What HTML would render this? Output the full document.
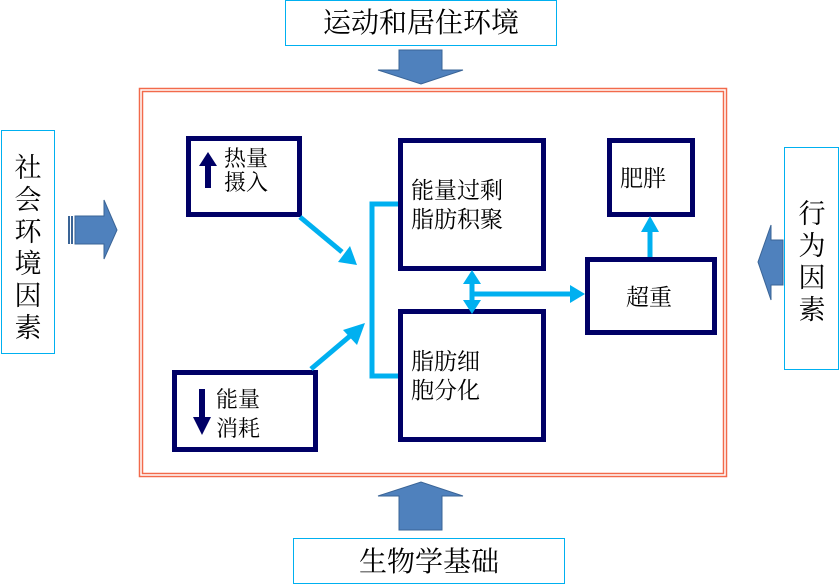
<!DOCTYPE html>
<html><head><meta charset="utf-8"><style>
body{margin:0;background:#fff;}
svg{display:block;}
text{font-family:"Liberation Serif","Noto Serif CJK SC",serif;fill:#000;}
</style></head><body>
<svg width="840" height="585" viewBox="0 0 840 585" xmlns="http://www.w3.org/2000/svg">
<rect x="139.5" y="88.5" width="587" height="388" fill="none" stroke="#f26a4b" stroke-width="1.5"/>
<rect x="142.5" y="91.5" width="581" height="382" fill="none" stroke="#f26a4b" stroke-width="1.5"/>

<rect x="285.5" y="0.5" width="271" height="45" fill="#fff" stroke="#00b0f0" stroke-width="1"/>
<text x="421" y="32" font-size="28" text-anchor="middle">运动和居住环境</text>
<rect x="293.5" y="538.5" width="271" height="45" fill="#fff" stroke="#00b0f0" stroke-width="1"/>
<text x="429" y="571" font-size="28" text-anchor="middle">生物学基础</text>
<rect x="1.5" y="130.5" width="53" height="223" fill="#fff" stroke="#00b0f0" stroke-width="1"/>
<g font-size="27" text-anchor="middle">
<text x="28" y="177">社</text><text x="28" y="209">会</text><text x="28" y="241">环</text><text x="28" y="273">境</text><text x="28" y="305">因</text><text x="28" y="337">素</text>
</g>
<rect x="784.5" y="147.5" width="54" height="222" fill="#fff" stroke="#00b0f0" stroke-width="1"/>
<g font-size="27" text-anchor="middle">
<text x="812" y="223">行</text><text x="812" y="255">为</text><text x="812" y="287">因</text><text x="812" y="319">素</text>
</g>

<g fill="#4f81bd" stroke="#3a6496" stroke-width="1">
<polygon points="399,50 442,50 442,70 463,70 421,84 378,70 399,70"/>
<polygon points="399,530 442,530 442,496 463,496 421,482 378,496 399,496"/>
<polygon points="75,216 104,216 104,200 117,230 104,259 104,244 75,244"/>
<polygon points="783,240 771,240 771,225 758,262 771,300 771,285 783,285"/>
</g>
<rect x="68" y="216" width="2" height="28" fill="#3a6496"/>
<rect x="71" y="216" width="2" height="28" fill="#3a6496"/>

<g fill="#fff" stroke="#000066" stroke-width="5">
<rect x="188.5" y="138.5" width="111" height="76"/>
<rect x="174.5" y="372.5" width="141" height="77"/>
<rect x="400.5" y="140.5" width="143" height="128"/>
<rect x="400.5" y="311.5" width="143" height="128"/>
<rect x="609.5" y="140.5" width="83" height="74"/>
<rect x="587.5" y="259.5" width="127" height="73"/>
</g>

<polygon points="205,188 211,188 211,166 217,166 208,152 199,166 205,166" fill="#000066"/>
<polygon points="199,389 205,389 205,417 211,417 202,435 193,417 199,417" fill="#000066"/>

<g font-size="22">
<text x="224" y="166">热量</text><text x="224" y="190">摄入</text>
<text x="216" y="407">能量</text><text x="216" y="436">消耗</text>
</g>
<g font-size="23">
<text x="411" y="198">能量过剩</text><text x="411" y="227">脂肪积聚</text>
<text x="411" y="369">脂肪细</text><text x="411" y="398">胞分化</text>
<text x="620" y="186">肥胖</text>
<text x="626" y="305">超重</text>
</g>

<g stroke="#00b0f0" stroke-width="5" fill="none">
<polyline points="398,204 372,204 372,376 398,376"/>
<line x1="300" y1="217" x2="342" y2="252"/>
<line x1="311" y1="369" x2="350" y2="336"/>
<line x1="472" y1="282" x2="472" y2="302"/>
<line x1="472" y1="294" x2="572" y2="294"/>
<line x1="650" y1="257" x2="650" y2="230"/>
</g>
<g fill="#00b0f0">
<polygon points="357,265 338,262 350,246"/>
<polygon points="365,323 343,330 357,345"/>
<polygon points="472,270 463,284 481,284"/>
<polygon points="472,314 463,300 481,300"/>
<polygon points="585,294 570,285 570,303"/>
<polygon points="650,216 641,232 659,232"/>
</g>
</svg>
</body></html>
